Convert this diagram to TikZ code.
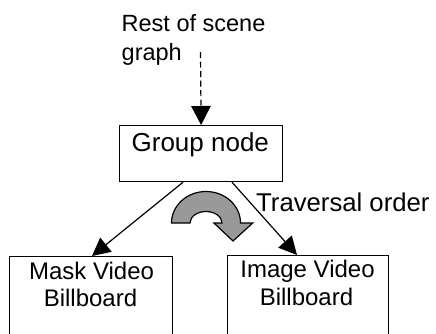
\documentclass[tikz,border=0pt]{standalone}
\usepackage{fontspec}
\setmainfont{Liberation Sans}
\usetikzlibrary{arrows.meta}
\begin{document}
\begin{tikzpicture}[x=1pt,y=1pt,
  box/.style={draw=black, line width=1.2pt, fill=none, inner sep=0pt, anchor=north west},
  txt/.style={inner sep=0pt, font=\fontsize{24}{28}\selectfont},
  big/.style={inner sep=0pt, font=\fontsize{26}{30}\selectfont},
  conn/.style={draw=black, line width=1.2pt, -{Triangle[length=18pt,width=18pt]}},
  turn/.style={draw=black, line width=1.2pt, fill=black!40}]
\clip (0,0) rectangle (436,-333);
\fill[white] (0,0) rectangle (436,-333);
% boxes
\node[box, minimum width=163pt, minimum height=56pt] (group) at (119,-125) {};
\node[box, minimum width=163pt, minimum height=110pt] (mask) at (9,-256) {};
\node[box, minimum width=161pt, minimum height=110pt] (image) at (227,-255) {};
% texts
\node[txt, anchor=base west, font=\fontsize{23.5}{28}\selectfont] (rest1) at (121.5,-31.7) {Rest of scene};
\node[txt, anchor=base west, font=\fontsize{23.5}{28}\selectfont] (rest2) at (121.5,-60) {graph};
\node[big, anchor=base] (grouptxt) at (200.3,-151.7) {Group node};
\node[big, anchor=base west, font=\fontsize{25.7}{30}\selectfont] (trav) at (256,-211.7) {Traversal order};
\node[txt, anchor=base] (mask1) at (91.5,-279.3) {Mask Video};
\node[txt, anchor=base] (mask2) at (90.5,-306.7) {Billboard};
\node[txt, anchor=base] (img1) at (307.5,-277.7) {Image Video};
\node[txt, anchor=base] (img2) at (306.5,-305) {Billboard};
% connectors
\coordinate (restend) at (200.5,-52);
\draw[conn, dash pattern=on 6pt off 3.5pt, -{Triangle[length=19pt,width=19.5pt]}] (restend) -- (group.north);
\draw[conn] ([xshift=64pt]group.south west) -- ([xshift=83pt]mask.north west);
\draw[conn] ([xshift=113pt]group.south west) -- ([xshift=70pt]image.north west);
% curved traversal arrow
\draw[turn] (171.5,-223) arc[start angle=180, end angle=0, x radius=34.5pt, y radius=31.5pt]
  -- (252.7,-223) -- (233,-241) -- (214,-223) -- (222,-223)
  arc[start angle=0, end angle=180, x radius=16pt, y radius=11.5pt] -- cycle;
\end{tikzpicture}
\end{document}
